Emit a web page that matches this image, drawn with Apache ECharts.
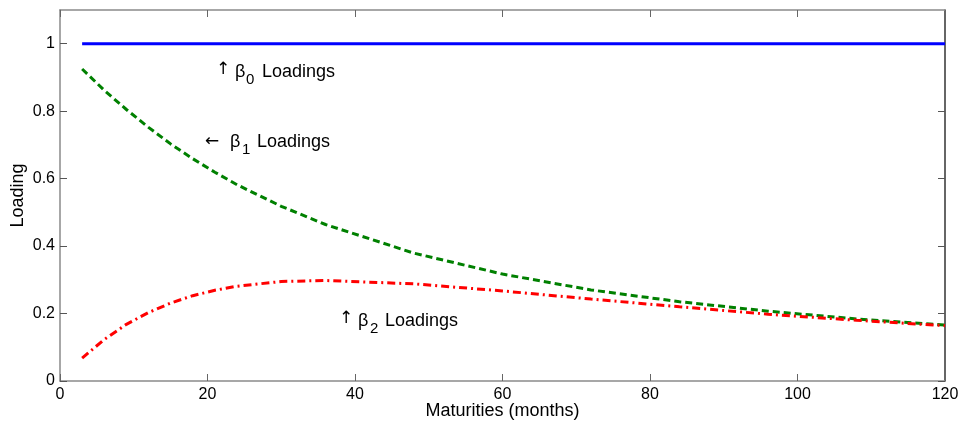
<!DOCTYPE html>
<html>
<head>
<meta charset="utf-8">
<script src="https://cdn.jsdelivr.net/npm/echarts@6/dist/echarts.min.js"></script>
<style>
  html, body { margin: 0; padding: 0; background: #fff; }
  #chart { width: 961px; height: 424px; }
</style>
</head>
<body>
<div id="chart"></div>
<script>
// Nelson-Siegel factor loadings by maturity
const maturities = [3, 6, 9, 12, 15, 18, 21, 24, 30, 36, 48, 60, 72, 84, 96, 108, 120];
const levelLoadings = [1, 1, 1, 1, 1, 1, 1, 1, 1, 1, 1, 1, 1, 1, 1, 1, 1];
const slopeLoadings = [0.925, 0.862, 0.805, 0.752, 0.703, 0.659, 0.619, 0.582, 0.518, 0.464, 0.379, 0.317, 0.270, 0.235, 0.207, 0.184, 0.166];
const curveLoadings = [0.068, 0.123, 0.168, 0.203, 0.231, 0.253, 0.269, 0.281, 0.295, 0.298, 0.288, 0.267, 0.243, 0.220, 0.198, 0.180, 0.164];
const yTickValues = [0, 0.2, 0.4, 0.6, 0.8, 1];
const xTickValues = [0, 20, 40, 60, 80, 100, 120];

const pairs = (vals) => maturities.map((m, i) => [m, vals[i]]);

const FONT = '"Liberation Sans", Arial, sans-serif';
const ARROW_FONT = '"DejaVu Sans", sans-serif';
const chart = echarts.init(document.getElementById('chart'), null, { renderer: 'canvas' });

const baseX = {
  type: 'value', min: 0, max: 120, interval: 20,
  splitLine: { show: false }
};
const baseY = {
  type: 'value', min: 0, max: 1.1, interval: 0.2,
  splitLine: { show: false }
};

// Annotation pieces: arrows, beta glyphs, subscripts and words
function label(x, y, text, size, family) {
  return {
    type: 'text', x: x, y: y,
    style: { text: text, font: size + 'px ' + (family || FONT), fill: '#000', textVerticalAlign: 'middle' }
  };
}

chart.setOption({
  animation: false,
  backgroundColor: '#fff',
  grid: { left: 60, right: 16, top: 10, bottom: 43, outerBoundsMode: 'none', containLabel: false },
  xAxis: [
    Object.assign({}, baseX, {
      position: 'bottom',
      name: 'Maturities (months)', nameLocation: 'middle', nameGap: 21, nameMoveOverlap: false,
      nameTextStyle: { fontFamily: FONT, fontSize: 18, color: '#000' },
      axisLine: { show: true, onZero: false, lineStyle: { color: '#8a8a8a', width: 1.5 } },
      axisTick: { show: true, inside: true, length: 7, customValues: xTickValues, lineStyle: { color: '#666' } },
      axisLabel: { fontFamily: FONT, fontSize: 16, color: '#000', margin: 6, customValues: xTickValues }
    }),
    Object.assign({}, baseX, {
      position: 'top',
      axisLine: { show: true, onZero: false, lineStyle: { color: '#8a8a8a', width: 1.5 } },
      axisTick: { show: true, inside: true, length: 7, customValues: xTickValues, lineStyle: { color: '#666' } },
      axisLabel: { show: false }
    })
  ],
  yAxis: [
    Object.assign({}, baseY, {
      position: 'left',
      name: 'Loading', nameLocation: 'middle', nameGap: 33, nameRotate: 90, nameMoveOverlap: false,
      nameTextStyle: { fontFamily: FONT, fontSize: 18, color: '#000' },
      axisLine: { show: true, onZero: false, lineStyle: { color: '#8a8a8a', width: 1.5 } },
      axisTick: { show: true, inside: true, length: 7, customValues: yTickValues, lineStyle: { color: '#555' } },
      axisLabel: { fontFamily: FONT, fontSize: 16, color: '#000', margin: 5, customValues: yTickValues }
    }),
    Object.assign({}, baseY, {
      position: 'right',
      axisLine: { show: true, onZero: false, lineStyle: { color: '#333', width: 1.5 } },
      axisTick: { show: true, inside: true, length: 7, customValues: yTickValues, lineStyle: { color: '#555' } },
      axisLabel: { show: false }
    })
  ],
  series: [
    {
      name: 'beta0', type: 'line', data: pairs(levelLoadings),
      showSymbol: false, symbol: 'none',
      lineStyle: { color: '#0000ff', width: 3, type: 'solid' }
    },
    {
      name: 'beta1', type: 'line', data: pairs(slopeLoadings),
      showSymbol: false, symbol: 'none',
      lineStyle: { color: '#008000', width: 3, type: [7, 4] }
    },
    {
      name: 'beta2', type: 'line', data: pairs(curveLoadings),
      showSymbol: false, symbol: 'none',
      lineStyle: { color: '#ff0000', width: 3, type: [8, 4, 2, 4] }
    }
  ],
  graphic: [
    label(216, 70, '\u2191', 17, ARROW_FONT), label(235, 72, '\u03b2', 18), label(246, 80, '0', 15), label(262, 72, 'Loadings', 18),
    label(205, 142, '\u2190', 17, ARROW_FONT), label(230, 142, '\u03b2', 18), label(242, 150, '1', 15), label(257, 142, 'Loadings', 18),
    label(339, 319, '\u2191', 17, ARROW_FONT), label(358, 321, '\u03b2', 18), label(370, 329, '2', 15), label(385, 321, 'Loadings', 18)
  ]
});
</script>
</body>
</html>
